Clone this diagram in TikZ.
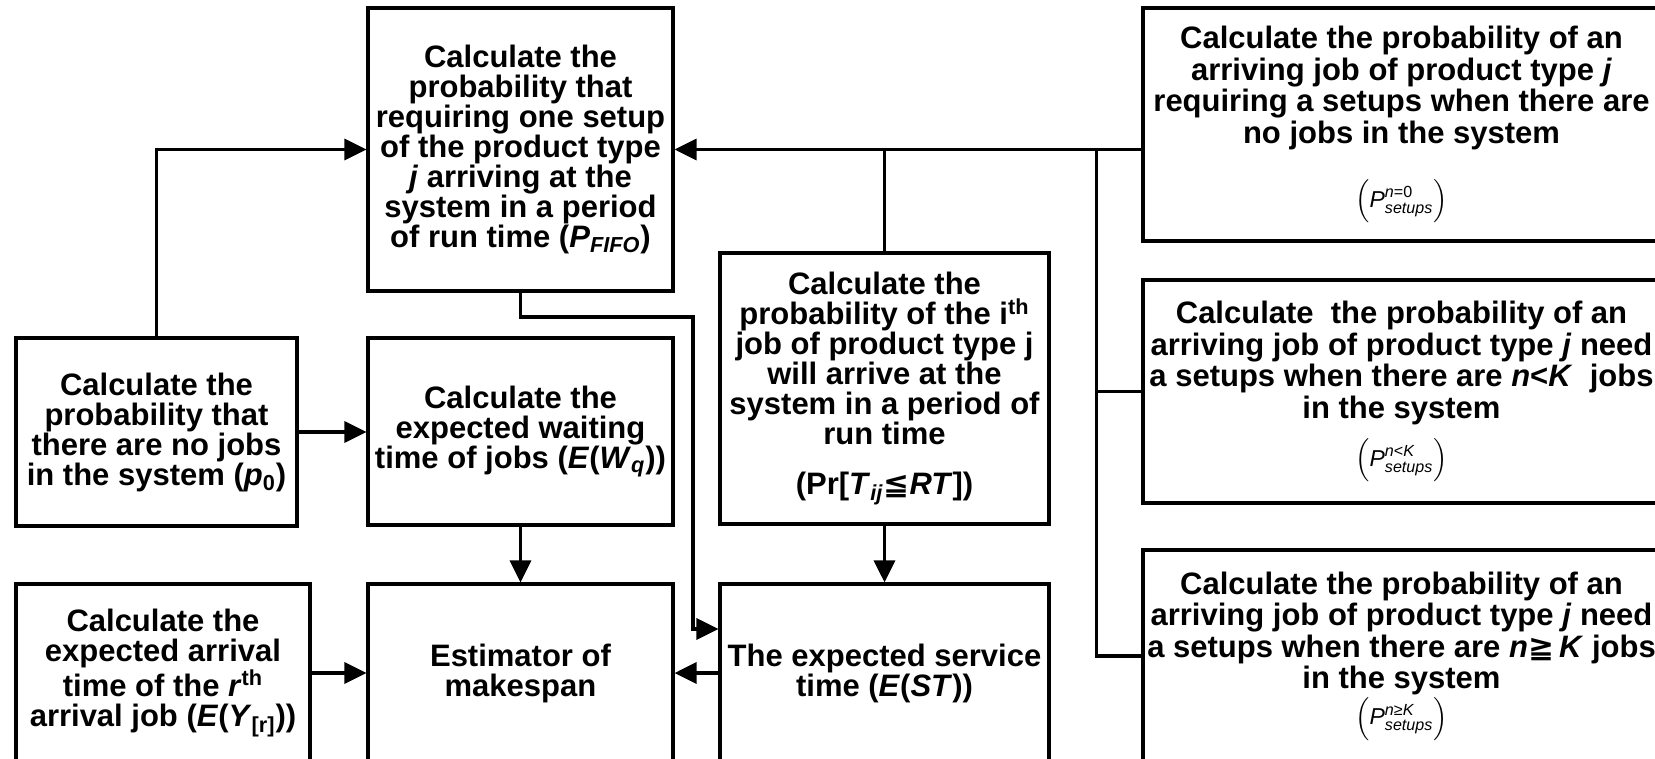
\documentclass[tikz,border=0pt]{standalone}
\usepackage{amsmath}
\usepackage{fontspec}
\setmainfont{Liberation Sans}
\newfontfamily\djv{DejaVu Sans}
\usetikzlibrary{arrows.meta,calc}

\newcommand{\setupsP}[1]{{\mdseries\fontsize{11.5}{13}\selectfont$\Bigl(\textit{P}^{#1}_{\textit{setups}}\Bigr)$}}

\begin{document}
\begin{tikzpicture}[x=0.5pt,y=-0.5pt,>={Triangle[length=11pt,width=10.5pt]},
   line width=1.6pt,
   every node/.style={font=\bfseries\fontsize{15.5}{15}\selectfont},
   box/.style={draw,align=center,inner sep=0pt},
   widebox/.style={box,minimum width=258.5pt,font=\bfseries\fontsize{15.5}{15.8}\selectfont}]
  \useasboundingbox (0,0) rectangle (1655,759);
  % top row
  \node[box,minimum width=152.5pt,minimum height=141.5pt] (pfifo) at (520.5,149.5)
    {Calculate the\\probability that\\requiring one setup\\of the product type\\\textit{j} arriving at the\\system in a period\\of run time (\textit{P}\textsubscript{\textit{FIFO}})};
  \node[widebox,minimum height=116.5pt] (pn0) at (1401.5,124.5)
    {Calculate the probability of an\\arriving job of product type \textit{j}\\requiring a setups when there are\\no jobs in the system\\[14pt]\setupsP{\textit{n}\textup{=0}}};
  % middle row
  \node[box,minimum width=164.5pt,minimum height=135.5pt] (pr) at (884.5,388.5)
    {Calculate the\\probability of the i\textsuperscript{th}\\job of product type j\\will arrive at the\\system in a period of\\run time\\[10pt](Pr[\textit{T}\textsubscript{\textit{ij}}{\djv ≦}\textit{RT}])};
  \node[widebox,minimum height=111.5pt] (pnk) at (1401.5,391.5)
    {Calculate\ \ the probability of an\\arriving job of product type \textit{j} need\\a setups when there are \textit{n}<\textit{K}\ \ jobs\\in the system\\[6pt]\setupsP{\textit{n}\textup{<}\textit{K}}};
  \node[box,minimum width=140.5pt,minimum height=94pt] (p0) at (156.5,432)
    {Calculate the\\probability that\\there are no jobs\\in the system (\textit{p}\textsubscript{0})};
  \node[box,minimum width=152.5pt,minimum height=93.5pt] (wq) at (520.5,431.5)
    {Calculate the\\expected waiting\\time of jobs (\textit{E}(\textit{W}\textsubscript{\textit{q}}))};
  % bottom row
  \node[box,minimum width=147pt,minimum height=89pt] (yr) at (163,673)
    {Calculate the\\expected arrival\\time of the \textit{r}\textsuperscript{th}\\arrival job (\textit{E}(\textit{Y}\textsubscript{[r]}))};
  \node[box,minimum width=152.5pt,minimum height=89pt] (est) at (520.5,673)
    {Estimator of\\makespan};
  \node[box,minimum width=164.5pt,minimum height=89pt] (st) at (884.5,673)
    {The expected service\\time (\textit{E}(\textit{ST}))};
  \node[widebox,minimum height=106pt] (pgk) at (1401.5,656)
    {Calculate the probability of an\\arriving job of product type \textit{j} need\\a setups when there are \textit{n}{\djv ≧}\,\textit{K} jobs\\in the system\\[0pt]\setupsP{\textit{n}\textup{≥}\textit{K}}};

  % connectors
  \coordinate (turn) at (693,317);
  \coordinate (bus) at ($(pfifo.east -| pn0.west)+(-45,0)$);
  \draw[->] (p0.north) |- (pfifo.west);
  \draw[->] (p0.east) -- (p0.east -| wq.west);
  \draw[->] (wq.south) -- (est.north);
  \draw[->] (yr.east) -- (est.west);
  \draw[->] (st.west) -- (est.east);
  \draw[->] (pr.south) -- (st.north);
  \draw[->] (pfifo.south) |- (turn) |- ([yshift=22pt]st.west);
  \draw[->] (pfifo.east -| pn0.west) -- (pfifo.east);
  \draw (pr.north) -- (pr.north |- pfifo.east);
  \draw (pnk.west) -| (bus);
  \draw (pgk.west) -| (bus);
\end{tikzpicture}
\end{document}
